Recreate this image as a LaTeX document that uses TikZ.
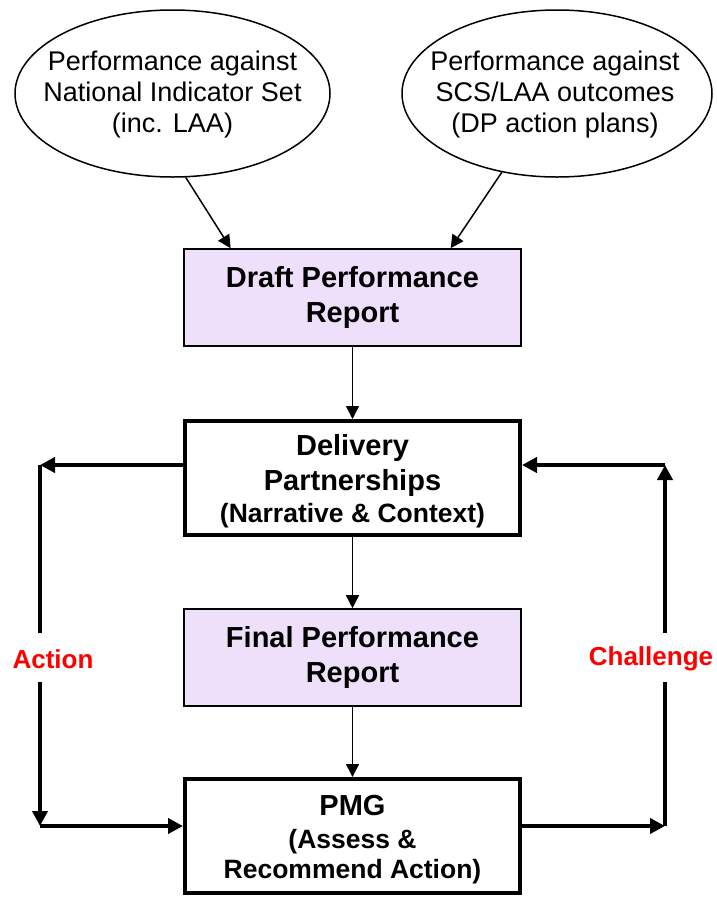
\documentclass[tikz,border=0pt]{standalone}
\usepackage{fontspec}
\setmainfont{Liberation Sans}
\usetikzlibrary{shapes.geometric,arrows.meta,calc}
\definecolor{lav}{RGB}{238,224,250}
\begin{document}
\begin{tikzpicture}[x=1pt,y=-1pt,
  ell/.style={ellipse,draw,line width=1.5pt,inner sep=0pt},
  etext/.style={align=center,inner sep=0pt,font=\fontsize{27}{31}\selectfont},
  rep/.style={draw,line width=1.6pt,fill=lav,minimum width=337pt,minimum height=97pt,inner sep=0pt,align=center,font=\bfseries\fontsize{29}{35}\selectfont},
  grp/.style={draw,line width=4pt,minimum width=335pt,minimum height=114pt,inner sep=0pt,align=center,font=\bfseries\fontsize{29}{35}\selectfont},
  thinarr/.style={line width=1.5pt,-{Triangle[length=13pt,width=13pt]}},
  looparr/.style={line width=4pt,-{Triangle[length=15pt,width=15pt]}},
  loopline/.style={line width=4pt},
  lbl/.style={text=red,inner sep=0pt,font=\bfseries\fontsize{26}{30}\selectfont}
]
\useasboundingbox (0,0) rectangle (717,898);
% ellipses
\node[ell,minimum width=315pt,minimum height=167pt] (e1) at (172.5,93.5) {};
\node[etext] (e1t) at (172.5,94.5) {Performance against\\National Indicator Set\\(inc. LAA)};
\node[ell,minimum width=310pt,minimum height=167pt] (e2) at (557,93.5) {};
\node[etext] (e2t) at (555,94.5) {Performance against\\SCS/LAA outcomes\\(DP action plans)};
% boxes
\node[rep] (draft) at (352.5,297.5) {Draft Performance\\Report};
\node[grp] (deliv) at (352.5,478) {\rule{0pt}{27pt}Delivery\\Partnerships\\[-3pt]{\fontsize{26.5}{32}\selectfont (Narrative \& Context)}};
\node[rep] (final) at (352.5,657.5) {Final Performance\\Report};
\node[grp] (pmg) at (352.5,836) {\rule{0pt}{27pt}PMG\\[-2pt]{\fontsize{26.5}{30}\selectfont (Assess \&}\\[-5pt]{\fontsize{26.5}{30}\selectfont Recommend Action)}};
% input arrows
\draw[thinarr] (e1.-81) -- ($(draft.north west)!0.14!(draft.north east)$);
\draw[thinarr] (e2.-125) -- ($(draft.north west)!0.79!(draft.north east)$);
\draw[thinarr] (draft) -- (deliv);
\draw[thinarr] (deliv) -- (final);
\draw[thinarr] (final) -- (pmg);
% loops
\coordinate (LT) at (40,465);
\coordinate (LB) at (40,826);
\coordinate (LG1) at (40,633);
\coordinate (LG2) at (40,682);
\coordinate (RT) at (665,465);
\coordinate (RB) at (665,826);
\coordinate (RG1) at (665,633);
\coordinate (RG2) at (665,682);
\draw[looparr] (deliv.west |- LT) -- (LT);
\draw[loopline] (LT) -- (LG1);
\draw[looparr] (LG2) -- (LB);
\draw[looparr] (LB) -- (pmg.west |- LB);
\draw[looparr] (pmg.east |- RB) -- (RB);
\draw[loopline] (RB) -- (RG2);
\draw[looparr] (RG1) -- (RT);
\draw[looparr] (RT) -- (deliv.east |- RT);
\node[lbl] (act) at (53,659) {Action};
\node[lbl] (chal) at (651,659) {Challenge};
\end{tikzpicture}
\end{document}
